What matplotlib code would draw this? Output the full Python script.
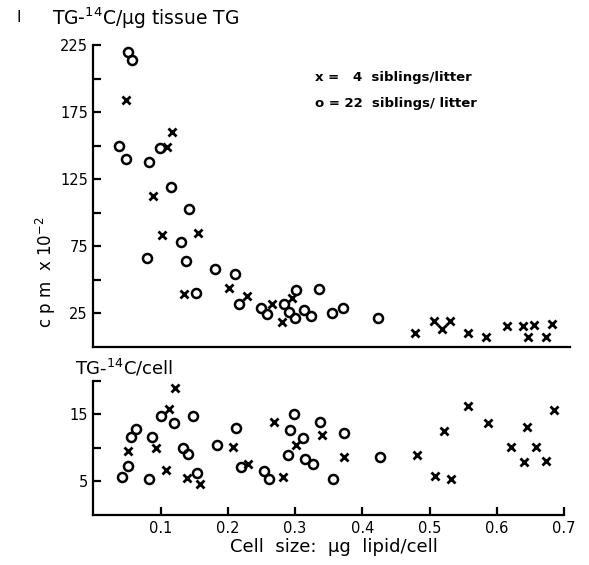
import matplotlib
matplotlib.use("Agg")
import matplotlib.pyplot as plt

# TG-14C per ug tissue TG (cpm x 10^-2)
top_4_x = [0.048, 0.117, 0.109, 0.088, 0.102, 0.155, 0.201, 0.134, 0.228, 0.266, 0.296, 0.280,
           0.479, 0.506, 0.519, 0.531, 0.557, 0.584, 0.616, 0.639, 0.646, 0.656, 0.673, 0.682]
top_4_y = [184, 160, 149, 112, 83, 85, 44, 39, 38, 32, 36, 18.5,
           10, 19, 13, 19, 10, 7, 15, 15, 7, 16, 7, 17]

top_22_x = [0.052, 0.057, 0.038, 0.099, 0.048, 0.083, 0.115, 0.142, 0.130, 0.080, 0.138, 0.181,
            0.211, 0.152, 0.217, 0.249, 0.258, 0.283, 0.302, 0.291, 0.300, 0.313, 0.323, 0.335,
            0.355, 0.372, 0.424]
top_22_y = [220, 214, 150, 148, 140, 138, 119, 103, 78, 66, 64, 58,
            54, 40, 32, 29, 24, 32, 42, 25.5, 21.5, 27, 23, 43,
            25, 29, 21.5]

# TG-14C per cell
bot_4_x = [0.121, 0.112, 0.052, 0.0925, 0.108, 0.139, 0.159, 0.207, 0.230, 0.2825, 0.268, 0.301,
           0.3405, 0.373, 0.481, 0.522, 0.508, 0.5315, 0.557, 0.5875, 0.621, 0.645, 0.640, 0.659,
           0.674, 0.685]
bot_4_y = [18.9, 15.8, 9.6, 10.0, 6.7, 5.5, 4.6, 10.1, 7.6, 5.6, 13.9, 10.4,
           11.9, 8.6, 8.9, 12.5, 5.8, 5.3, 16.3, 13.8, 10.1, 13.1, 7.9, 10.1,
           8.1, 15.6]

bot_22_x = [0.101, 0.120, 0.148, 0.064, 0.056, 0.0875, 0.133, 0.140, 0.052, 0.042, 0.082, 0.154,
            0.184, 0.212, 0.219, 0.254, 0.261, 0.299, 0.293, 0.312, 0.290, 0.315, 0.326, 0.337,
            0.357, 0.372, 0.427]
bot_22_y = [14.8, 13.8, 14.7, 12.8, 11.6, 11.7, 10.0, 9.1, 7.3, 5.6, 5.4, 6.2,
            10.4, 13.0, 7.1, 6.6, 5.4, 15.1, 12.7, 11.5, 8.9, 8.4, 7.6, 13.9,
            5.4, 12.2, 8.6]

x_ticks = [0.1, 0.2, 0.3, 0.4, 0.5, 0.6, 0.7]
top_ticks = [25, 50, 75, 100, 125, 150, 175, 200, 225]
top_labels = ['25', '', '75', '', '125', '', '175', '', '225']
bot_ticks = [5, 10, 15, 20]
bot_labels = ['5', '', '15', '']

plt.rcParams['font.family'] = ['DejaVu Sans']
fig = plt.figure(figsize=(5.89, 5.65), dpi=100)

ax1 = fig.add_axes([0.1587, 0.3867, 0.809, 0.5336])
ax2 = fig.add_axes([0.1587, 0.0885, 0.7988, 0.2372])

x_style = dict(marker='x', ls='none', color='black', ms=5.5, mew=2)
o_style = dict(marker='o', ls='none', mfc='none', mec='black', ms=6.5, mew=1.8)

ax1.plot(top_4_x, top_4_y, **x_style)
ax1.plot(top_22_x, top_22_y, **o_style)
ax2.plot(bot_4_x, bot_4_y, **x_style)
ax2.plot(bot_22_x, bot_22_y, **o_style)

for ax in (ax1, ax2):
    for s in ('top', 'right'):
        ax.spines[s].set_visible(False)
    for s in ('left', 'bottom'):
        ax.spines[s].set_linewidth(1.6)
    ax.tick_params(direction='in', length=6, width=1.6, labelsize=10.5, pad=4)

ax1.set_xlim(0, 0.709)
ax1.set_ylim(0, 225)
ax1.set_xticks([])
ax1.set_yticks(top_ticks)
ax1.set_yticklabels(top_labels)

ax2.set_xlim(0, 0.7)
ax2.set_ylim(0, 20)
ax2.set_xticks(x_ticks)
ax2.set_xticklabels([('%.1f' % v) for v in x_ticks])
ax2.set_yticks(bot_ticks)
ax2.set_yticklabels(bot_labels)

# texts
fig.text(17 / 589, 1 - 18 / 565, 'I', fontsize=11, va='center')
fig.text(52 / 589, 1 - 18 / 565, r'TG-$^{\mathregular{14}}$C/μg tissue TG', fontsize=13.5, va='center')
fig.text(75 / 589, 1 - 368 / 565, r'TG-$^{\mathregular{14}}$C/cell', fontsize=13, va='center')
fig.text(46 / 589, 1 - 272 / 565, r'c p m  x 10$^{\mathregular{-2}}$', fontsize=12,
         rotation=90, ha='center', va='center')
fig.text(334 / 589, 1 - 547 / 565, 'Cell  size:  μg  lipid/cell', fontsize=13, ha='center', va='center')
fig.text(315 / 589, 1 - 77 / 565, 'x =   4  siblings/litter', fontsize=9.5, va='center', fontweight='bold')
fig.text(315 / 589, 1 - 103 / 565, 'o = 22  siblings/ litter', fontsize=9.5, va='center', fontweight='bold')

fig.savefig('out.png', dpi=100)
